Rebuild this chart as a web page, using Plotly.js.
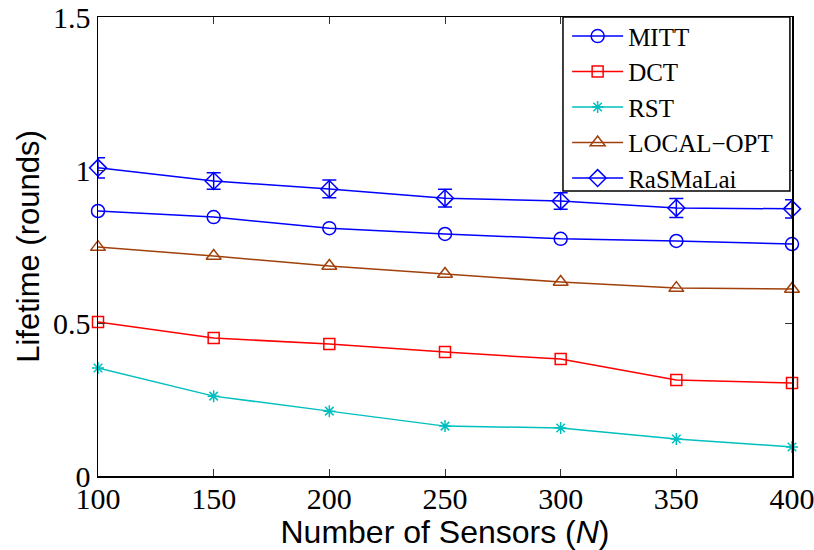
<!DOCTYPE html>
<html>
<head>
<meta charset="utf-8">
<script src="https://cdn.plot.ly/plotly-3.0.1.min.js"></script>
<style>html,body{margin:0;padding:0;background:#fff;}#chart{width:814px;height:550px;}</style>
</head>
<body>
<div id="chart"></div>
<script>
const sensors = [100, 150, 200, 250, 300, 350, 400];
const mitt = [0.866, 0.846, 0.810, 0.791, 0.775, 0.768, 0.758];
const dct = [0.503, 0.451, 0.431, 0.405, 0.382, 0.314, 0.304];
const rst = [0.353, 0.261, 0.212, 0.163, 0.157, 0.121, 0.095];
const localOpt = [0.748, 0.719, 0.686, 0.660, 0.634, 0.614, 0.611];
const rasmalai = [1.007, 0.964, 0.938, 0.908, 0.899, 0.876, 0.873];
const rasmalaiErr = [0.033, 0.027, 0.029, 0.029, 0.027, 0.031, 0.030];
const yTickVals = [0, 0.5, 1, 1.5];
const yTickText = ['0', '0.5', '1', '1.5'];
const xTickVals = [100, 150, 200, 250, 300, 350, 400];

function tr(name, y, color, symbol, size, extra) {
  return Object.assign({
    x: sensors, y: y, name: name, type: 'scatter', mode: 'lines+markers',
    line: {color: color, width: 1.5},
    marker: {symbol: symbol, size: size, color: color, line: {color: color, width: 1.5}},
    cliponaxis: false
  }, extra || {});
}

const data = [
  tr('MITT', mitt, '#0000FF', 'circle-open', 13),
  tr('DCT', dct, '#FF0000', 'square-open', 11),
  tr('RST', rst, '#00BFBF', 'asterisk-open', 10),
  tr('LOCAL\u2212OPT', localOpt, '#A0400A', 'triangle-up-open', 13),
  tr('RaSMaLai', rasmalai, '#0000FF', 'diamond-open', 13, {
    error_y: {type: 'data', array: rasmalaiErr, visible: true, color: '#0000FF', thickness: 1.5, width: 7}
  })
];

const axisCommon = {
  showline: true, linecolor: '#000', linewidth: 1.5, mirror: 'ticks',
  ticks: 'inside', ticklen: 7, tickwidth: 1, tickcolor: '#333',
  showgrid: false, zeroline: false, ticklabeloverflow: 'allow',
  tickfont: {family: 'Liberation Serif, Times New Roman, serif', size: 30, color: '#000'}
};

const layout = {
  width: 814, height: 550,
  margin: {l: 98, r: 22, t: 17, b: 74},
  paper_bgcolor: '#fff', plot_bgcolor: '#fff',
  showlegend: true,
  xaxis: Object.assign({}, axisCommon, {
    range: [100, 400], tickvals: xTickVals, ticktext: xTickVals.map(String),
    ticklabelstandoff: -5,
    title: {text: 'Number of Sensors (<i>N</i>)', standoff: 2,
      font: {family: 'Liberation Sans, Arial, sans-serif', size: 32, color: '#000'}}
  }),
  yaxis: Object.assign({}, axisCommon, {
    range: [0, 1.5], tickvals: yTickVals, ticktext: yTickText,
    ticklabelstandoff: 0,
    title: {text: 'Lifetime (rounds)', standoff: 4,
      font: {family: 'Liberation Sans, Arial, sans-serif', size: 31, color: '#000'}}
  }),
  shapes: [{
    type: 'rect', xref: 'paper', yref: 'paper', layer: 'above',
    x0: 0.670, x1: 0.997, y0: 0.621, y1: 1,
    fillcolor: '#fff', line: {color: '#000', width: 1.5}
  }],
  legend: {
    x: 0.676, xanchor: 'left', y: 1.008, yanchor: 'top',
    bgcolor: 'rgba(0,0,0,0)', borderwidth: 0,
    font: {family: 'Liberation Serif, Times New Roman, serif', size: 25, color: '#000'},
    itemwidth: 51, tracegroupgap: 0
  }
};

Plotly.newPlot('chart', data, layout, {displayModeBar: false, staticPlot: true});
</script>
</body>
</html>
